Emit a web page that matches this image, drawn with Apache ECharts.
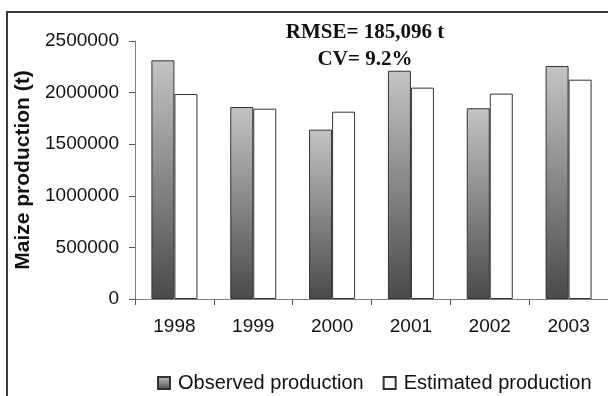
<!DOCTYPE html>
<html>
<head>
<meta charset="utf-8">
<script src="https://cdn.jsdelivr.net/npm/echarts@6/dist/echarts.min.js"></script>
<style>
  html, body { margin: 0; padding: 0; background: #fff; }
  #chart { width: 608px; height: 396px; }
</style>
</head>
<body>
<div id="chart"></div>
<script>
// data
const years = ["1998", "1999", "2000", "2001", "2002", "2003"];
const observed = [2313000, 1860000, 1641000, 2212000, 1848000, 2258000];
const estimated = [1986000, 1844000, 1815000, 2048000, 1990000, 2125000];
const statsLines = ["RMSE= 185,096 t", "CV= 9.2%"];

const sansFont = "Liberation Sans, Arial, sans-serif";
const serifFont = "Liberation Serif, Times New Roman, serif";

const chart = echarts.init(document.getElementById("chart"));

const obsGradient = new echarts.graphic.LinearGradient(0, 0, 0, 1, [
    { offset: 0, color: "#c4c4c4" },
    { offset: 1, color: "#4a4a4a" },
]);

chart.setOption({
    backgroundColor: "#fff",
    animation: false,
    title: {
        text: statsLines.join("\n"),
        left: 360,
        top: 14,
        textAlign: "center",
        textStyle: {
            fontFamily: serifFont,
            fontWeight: "bold",
            fontSize: 21,
            lineHeight: 27,
            color: "#111",
        },
    },
    legend: {
        left: 152,
        top: 368,
        icon: "rect",
        itemWidth: 12,
        itemHeight: 12,
        itemGap: 19,
        textStyle: {
            fontFamily: sansFont,
            fontSize: 20,
            color: "#111",
            padding: [0, 0, 0, 3],
        },
    },
    grid: {
        left: 135,
        top: 41,
        width: 486,
        height: 258,
    },
    xAxis: {
        type: "category",
        data: years,
        axisLine: { lineStyle: { color: "#808080", width: 1 } },
        axisTick: { show: true, length: 6, lineStyle: { color: "#555" } },
        axisLabel: {
            margin: 18,
            fontFamily: sansFont,
            fontSize: 19,
            color: "#111",
        },
    },
    yAxis: {
        type: "value",
        min: 0,
        max: 2500000,
        interval: 500000,
        name: "Maize production (t)",
        nameLocation: "middle",
        nameGap: 94,
        nameTextStyle: {
            fontFamily: sansFont,
            fontWeight: "bold",
            fontSize: 21,
            color: "#111",
        },
        axisLine: { show: true, lineStyle: { color: "#808080", width: 1 } },
        axisTick: { show: true, length: 6, lineStyle: { color: "#555" } },
        splitLine: { show: false },
        axisLabel: {
            margin: 16,
            fontFamily: sansFont,
            fontSize: 19,
            color: "#111",
            formatter: (v) => String(v),
        },
    },
    series: [
        {
            name: "Observed production",
            type: "bar",
            data: observed,
            barWidth: 23,
            barGap: "0%",
            itemStyle: {
                color: obsGradient,
                borderColor: "#333",
                borderWidth: 1,
            },
        },
        {
            name: "Estimated production",
            type: "bar",
            data: estimated,
            barWidth: 23,
            barGap: "0%",
            itemStyle: {
                color: "#fff",
                borderColor: "#333",
                borderWidth: 1,
            },
        },
    ],
    graphic: [
        {
            // outer frame of the figure
            type: "rect",
            shape: { x: 7, y: 12, width: 640, height: 420 },
            style: { fill: "none", stroke: "#3a3a3a", lineWidth: 2 },
            silent: true,
        },
    ],
});
</script>
</body>
</html>
